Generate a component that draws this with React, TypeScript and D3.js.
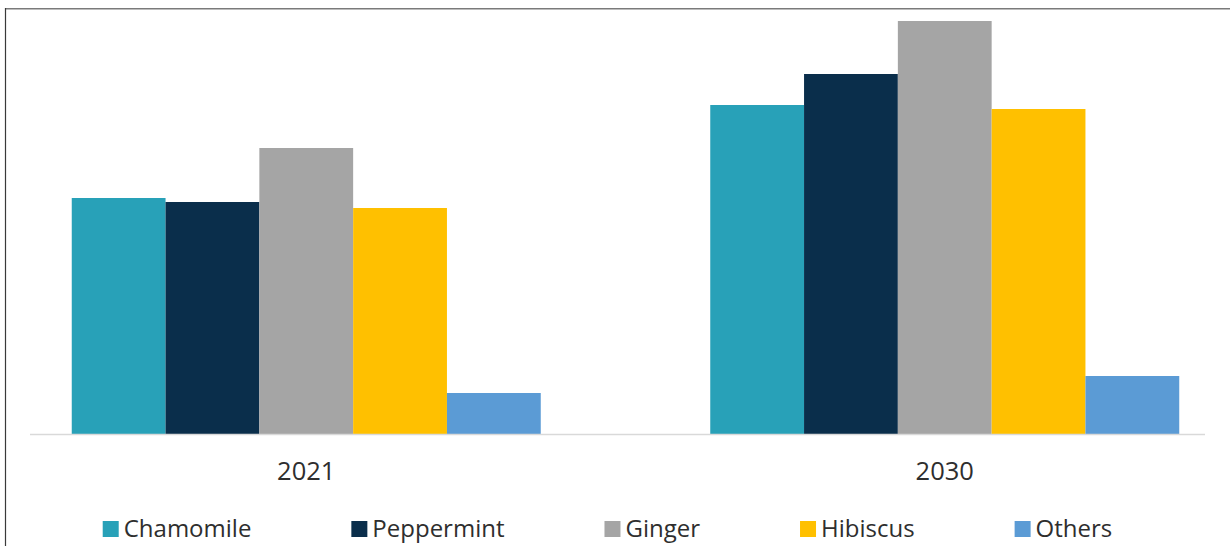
import React, { useEffect, useRef } from "react";
import * as d3 from "d3";

// Herbal tea market by type, two snapshot years
const years = ["2021", "2030"];
const teaTypes = ["Chamomile", "Peppermint", "Ginger", "Hibiscus", "Others"];
const values2021 = [2.36, 2.32, 2.86, 2.26, 0.41];
const values2030 = [3.29, 3.6, 4.13, 3.25, 0.58];
const typeColors = ["#28A1B8", "#0A2E4B", "#A5A5A5", "#FFC000", "#5B9BD5"];

const W = 1230;
const H = 546;
const FONT = "'Open Sans', 'DejaVu Sans', sans-serif";

export default function App() {
  const ref = useRef<SVGSVGElement | null>(null);

  useEffect(() => {
    const svg = d3.select(ref.current);
    svg.selectAll("*").remove();

    const baseline = 434;
    const y = d3.scaleLinear().domain([0, 4.2]).range([baseline, 14]);

    // Year groups, then tea types inside each group
    const x0 = d3.scaleBand<string>().domain(years).range([-13, 1264]);
    const groupPad = 84.75;
    const x1 = d3
      .scaleBand<string>()
      .domain(teaTypes)
      .range([groupPad, x0.bandwidth() - groupPad]);
    const color = d3.scaleOrdinal<string, string>().domain(teaTypes).range(typeColors);

    const rows = years.map((yr, i) => ({
      year: yr,
      vals: (i === 0 ? values2021 : values2030).map((v, j) => ({ type: teaTypes[j], v })),
    }));

    // Frame lines
    svg
      .append("line")
      .attr("x1", 5)
      .attr("x2", W)
      .attr("y1", 8.75)
      .attr("y2", 8.75)
      .attr("stroke", "#7a7a7a")
      .attr("stroke-width", 1.6);
    svg
      .append("line")
      .attr("x1", 5.5)
      .attr("x2", 5.5)
      .attr("y1", 8)
      .attr("y2", H)
      .attr("stroke", "#3a3a3a")
      .attr("stroke-width", 1.2);

    // Bars
    const g = svg
      .append("g")
      .selectAll("g")
      .data(rows)
      .join("g")
      .attr("transform", (d) => `translate(${x0(d.year)},0)`);
    g.selectAll("rect")
      .data((d) => d.vals)
      .join("rect")
      .attr("x", (d) => x1(d.type)!)
      .attr("width", x1.bandwidth())
      .attr("y", (d) => y(d.v))
      .attr("height", (d) => baseline - y(d.v))
      .attr("fill", (d) => color(d.type));

    // Category axis
    svg
      .append("line")
      .attr("x1", 30)
      .attr("x2", 1205)
      .attr("y1", baseline + 0.5)
      .attr("y2", baseline + 0.5)
      .attr("stroke", "#d9d9d9")
      .attr("stroke-width", 1.5);
    svg
      .append("g")
      .selectAll("text")
      .data(years)
      .join("text")
      .attr("x", (d) => x0(d)! + x0.bandwidth() / 2)
      .attr("y", 480)
      .attr("text-anchor", "middle")
      .attr("font-family", FONT)
      .attr("font-size", 25.5)
      .attr("fill", "#2e2e2e")
      .text((d) => d);

    // Legend, laid out from measured label widths and centred
    const legend = svg.append("g");
    const items = legend
      .selectAll("g")
      .data(teaTypes)
      .join("g");
    const markerSize = 16;
    const markerGap = 5;
    items
      .append("rect")
      .attr("y", 521)
      .attr("width", markerSize)
      .attr("height", markerSize)
      .attr("fill", (d) => color(d));
    const labels = items
      .append("text")
      .attr("x", markerSize + markerGap)
      .attr("y", 537)
      .attr("font-family", FONT)
      .attr("font-size", 24)
      .attr("fill", "#2e2e2e")
      .text((d) => d);
    const widths: number[] = [];
    labels.each(function () {
      widths.push((this as SVGTextElement).getComputedTextLength());
    });
    const itemGap = 100;
    const itemW = widths.map((w) => markerSize + markerGap + w);
    const total = d3.sum(itemW) + itemGap * (itemW.length - 1);
    let cx = 607.5 - total / 2;
    const starts: number[] = [];
    itemW.forEach((w) => {
      starts.push(cx);
      cx += w + itemGap;
    });
    items.attr("transform", (_d, i) => `translate(${starts[i]},0)`);
  }, []);

  return (
    <svg
      ref={ref}
      width={W}
      height={H}
      style={{ position: "absolute", left: 0, top: 0, background: "#ffffff" }}
    />
  );
}
